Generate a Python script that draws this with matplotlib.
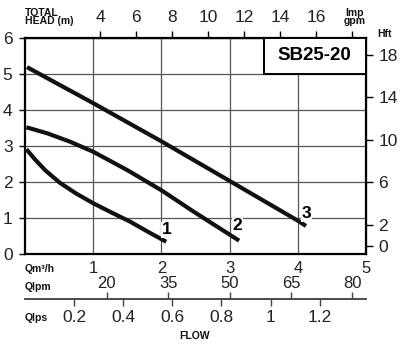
import matplotlib.pyplot as plt
from matplotlib.patches import Rectangle

plt.rcParams['font.family'] = ['Liberation Sans', 'DejaVu Sans']

# pump curves, flow in m3/h and head in m
q1 = [0.02, 0.15, 0.3, 0.51, 0.75, 1.0, 1.25, 1.54, 1.8, 2.07]
h1 = [2.91, 2.62, 2.32, 1.98, 1.68, 1.41, 1.17, 0.90, 0.62, 0.34]
q2 = [0.02, 0.33, 0.66, 1.0, 1.5, 2.0, 2.47, 2.8, 3.14]
h2 = [3.52, 3.35, 3.12, 2.84, 2.33, 1.77, 1.18, 0.78, 0.37]
q3 = [0.03, 1.0, 2.0, 3.0, 3.97, 4.12]
h3 = [5.19, 4.19, 3.13, 2.03, 0.96, 0.78]
curve_names = ["1", "2", "3"]
name_pos = [(2.08, 0.67), (3.11, 0.78), (4.13, 1.13)]

m3h_ticks = [1, 2, 3, 4, 5]
head_ticks = [0, 1, 2, 3, 4, 5, 6]
gpm_ticks = [4, 6, 8, 10, 12, 14, 16, 18]
ft_ticks = [0, 2, 6, 10, 14, 18]
lpm_ticks = [20, 35, 50, 65, 80]
lps_ticks = [0.2, 0.4, 0.6, 0.8, 1.0, 1.2]
lps_labels = ["0.2", "0.4", "0.6", "0.8", "1", "1.2"]
model = "SB25-20"

W, H = 400, 347
fig = plt.figure(figsize=(W / 100, H / 100), dpi=100)
ax = fig.add_axes([25 / W, 1 - 254 / H, 341 / W, 216 / H])
ax.set_xlim(0, 5)
ax.set_ylim(0, 6)

txt = '#222222'
for s in ax.spines.values():
    s.set_linewidth(1.6)
ax.set_xticks(m3h_ticks)
ax.set_yticks(head_ticks)
ax.tick_params(axis='x', length=0, pad=5, labelsize=12, labelcolor=txt)
ax.tick_params(axis='y', length=4, width=1, pad=5, labelsize=12.5, labelcolor=txt)
ax.grid(True, color='#555555', linewidth=0.9)
ax.set_axisbelow(True)

for q, h in [(q1, h1), (q2, h2), (q3, h3)]:
    ax.plot(q, h, color='#111111', linewidth=3, solid_capstyle='butt',
            solid_joinstyle='round', zorder=3)
for name, (x, y) in zip(curve_names, name_pos):
    ax.text(x, y, name, fontsize=12.5, fontweight='bold', ha='center', va='center',
            zorder=4, bbox=dict(facecolor='white', edgecolor='none', pad=0.5))

ax.add_patch(Rectangle((3.5, 5.0), 1.5, 1.0, facecolor='white', edgecolor='black',
                       linewidth=1.4, zorder=3, clip_on=False))
ax.text(4.25, 5.5, model, fontsize=13.5, fontweight='bold', ha='center', va='center', zorder=4)

# top: imperial gpm
top = ax.secondary_xaxis('top', functions=(lambda q: (q - 0.044) / 0.264,
                                           lambda g: 0.044 + 0.264 * g))
top.set_xticks(gpm_ticks)
top.set_xticklabels([str(g) for g in gpm_ticks[:-1]] + [""])
top.tick_params(length=5, width=1, pad=4, labelsize=12.5, labelcolor=txt)

# right: head in feet
right = ax.secondary_yaxis('right', functions=(lambda m: (m - 0.22) / 0.295,
                                               lambda f: 0.22 + 0.295 * f))
right.set_yticks(ft_ticks)
right.tick_params(length=5, width=1, pad=4, labelsize=12.5, labelcolor=txt)

# bottom flow scales
loc = -45 / 216
lpm = ax.secondary_xaxis(loc, functions=(lambda q: q * 1000 / 60, lambda l: l * 60 / 1000))
lpm.set_alignment('top')
lpm.set_xticks(lpm_ticks)
lpm.tick_params(length=5, width=1, pad=0.5, labelsize=12, labelcolor=txt, color='#444444')
lps = ax.secondary_xaxis(loc, functions=(lambda q: q / 3.6, lambda l: l * 3.6))
lps.set_xticks(lps_ticks)
lps.set_xticklabels(lps_labels)
lps.tick_params(length=5, width=1, pad=3, labelsize=12.5, labelcolor=txt, color='#444444')
for sec in (lpm, lps):
    for s in sec.spines.values():
        s.set_linewidth(1.1)
        s.set_color('#444444')

def ftext(x, y, s, **kw):
    fig.text(x / W, 1 - y / H, s, fontsize=7.5, fontweight='bold', color='#111111',
             va='center', **kw)

ftext(25, 17, "TOTAL\nHEAD (m)", ha='left', linespacing=0.85)
ftext(355, 17, "Imp\ngpm", ha='center', multialignment='center', linespacing=0.85)
ftext(385, 34, "Hft", ha='center')
ftext(25, 269, "Qm³/h", ha='left')
ftext(25, 287, "Qlpm", ha='left')
ftext(25, 318, "Qlps", ha='left')
ftext(195, 336, "FLOW", ha='center')

fig.savefig("out.png", dpi=100)
